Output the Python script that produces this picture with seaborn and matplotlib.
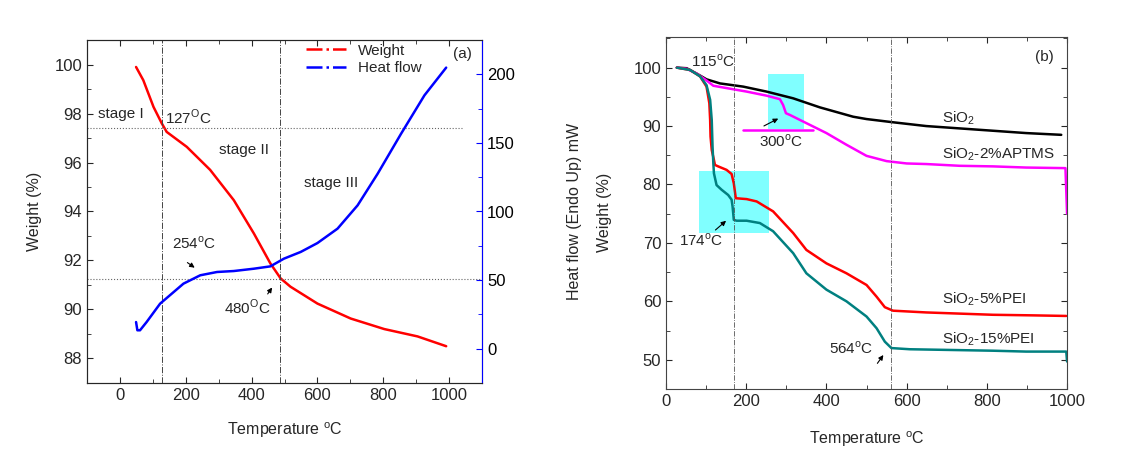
import numpy as np
import pandas as pd
import matplotlib
matplotlib.use("Agg")
import matplotlib.pyplot as plt
from matplotlib.lines import Line2D
from matplotlib.patches import Rectangle
from matplotlib.ticker import MultipleLocator
import seaborn as sns

# ---------------- data: panel (a) ----------------
wt_temp = [49, 71, 102, 127, 142, 203, 274, 346, 407, 457, 488, 518, 600, 701, 803, 904, 991]
wt_val = [99.9, 99.36, 98.27, 97.6, 97.25, 96.64, 95.7, 94.46, 93.1, 91.88, 91.27, 90.93,
          90.24, 89.63, 89.2, 88.9, 88.5]
hf_temp = [49, 53, 61, 81, 122, 193, 244, 295, 346, 407, 457, 498, 549, 600, 661, 722, 783,
           854, 925, 991]
hf_val = [19.4, 13.4, 13.4, 19.4, 32.8, 47.4, 53.5, 55.9, 56.6, 58.3, 60.0, 65.6, 70.5, 77.0,
          87.5, 104.5, 127.6, 156.7, 184.7, 204.9]

# ---------------- data: panel (b) ----------------
sio2_t = [27, 51.5, 76, 101, 134.5, 192.6, 250.7, 317, 383.6, 466.6, 500, 566, 649, 732, 815, 898, 985.5]
sio2_w = [100, 99.9, 99.0, 98.0, 97.3, 96.75, 95.9, 94.75, 93.2, 91.6, 91.2, 90.65, 90.0, 89.6,
          89.2, 88.8, 88.5]
aptms_t = [27, 51.5, 76, 101, 118, 151, 201, 251, 284, 292, 299, 309, 350, 400, 450, 500, 550,
           600, 649, 732, 815, 898, 996, 1000]
aptms_w = [100, 99.8, 99.0, 97.8, 96.9, 96.5, 95.9, 95.2, 94.6, 93.6, 92.2, 91.9, 90.5, 88.8,
           86.8, 84.9, 84.0, 83.6, 83.5, 83.2, 83.1, 82.9, 82.8, 75.0]
pei5_t = [27, 60, 85, 101, 108, 110, 111, 114, 119.5, 122, 130, 151, 163.5, 169, 174, 201, 226,
          267, 317, 350, 400, 450, 500, 525, 545.6, 566, 649, 732, 815, 915, 998]
pei5_w = [100, 99.6, 98.5, 96.75, 93.9, 91.05, 88.2, 85.9, 84.2, 83.35, 83.1, 82.5, 81.8, 80.2,
          77.65, 77.5, 77.1, 75.4, 71.7, 68.8, 66.5, 64.8, 62.8, 60.8, 59.0, 58.4, 58.1, 57.9,
          57.7, 57.6, 57.5]
pei15_t = [27, 60, 85, 101, 110, 114, 116, 118, 119.5, 126, 138.6, 155, 163.5, 166, 169, 176,
           201, 234, 267, 317, 350, 400, 450, 500, 525, 545.6, 562, 608, 691, 815, 898, 998, 1000]
pei15_w = [100, 99.6, 98.5, 97.0, 94.5, 91.05, 86.5, 83.6, 81.9, 79.9, 79.1, 78.2, 77.4, 76.2,
           73.95, 73.8, 73.8, 73.4, 72.0, 68.25, 64.8, 62.0, 60.0, 57.4, 55.4, 53.1, 52.0, 51.8,
           51.7, 51.55, 51.4, 51.4, 49.7]

series_names = ["SiO$_2$", "SiO$_2$-2%APTMS", "SiO$_2$-5%PEI", "SiO$_2$-15%PEI"]
series_colors = ["black", "#ff00ff", "#ff0000", "#008080"]

# ---------------- style ----------------
sns.set_style("ticks")
plt.rcParams["font.family"] = ["Liberation Sans", "DejaVu Sans"]
plt.rcParams["mathtext.fontset"] = "custom"
plt.rcParams["mathtext.rm"] = "Liberation Sans"
plt.rcParams["xtick.direction"] = "in"
plt.rcParams["ytick.direction"] = "in"

fig = plt.figure(figsize=(11.3, 4.5), dpi=100)
fs_tick = 12
fs_lab = 11.5
fs = 11

# ================= panel (a) =================
ax1 = fig.add_axes([0.077, 0.149, 0.3496, 0.762])
df_w = pd.DataFrame({"T": wt_temp, "W": wt_val})
sns.lineplot(data=df_w, x="T", y="W", ax=ax1, color="#ff0000", lw=1.8, sort=False)
ax1.set_xlim(-100, 1100)
ax1.set_ylim(87, 101)
ax1.xaxis.set_major_locator(MultipleLocator(200))
ax1.xaxis.set_minor_locator(MultipleLocator(100))
ax1.yaxis.set_major_locator(MultipleLocator(2))
ax1.yaxis.set_minor_locator(MultipleLocator(1))
ax1.tick_params(which="both", top=True, labelsize=fs_tick)
ax1.tick_params(which="major", length=4)
ax1.tick_params(which="minor", length=3)
ax1.set_xlabel("Temperature $^{\\rm o}$C", fontsize=fs_lab)
ax1.set_ylabel("Weight (%)", fontsize=fs_lab)
ax1.xaxis.set_label_coords(0.5, -0.108)
ax1.yaxis.set_label_coords(-0.115, 0.5)
for s in ax1.spines.values():
    s.set_color("#444444")

ax1.axvline(127, color="#444444", ls="-.", lw=0.7)
ax1.axvline(486, color="#444444", ls="-.", lw=0.7)
ax1.axhline(97.41, xmax=0.95, color="#666666", ls=":", lw=0.8)
ax1.axhline(91.24, color="#666666", ls=":", lw=0.8)

ax2 = ax1.twinx()
df_h = pd.DataFrame({"T": hf_temp, "H": hf_val})
sns.lineplot(data=df_h, x="T", y="H", ax=ax2, color="#0000ff", lw=1.8, sort=False)
ax2.set_ylim(-25, 225)
ax2.yaxis.set_major_locator(MultipleLocator(50))
ax2.yaxis.set_minor_locator(MultipleLocator(25))
ax2.tick_params(which="both", colors="#0000ff", labelcolor="black", labelsize=fs_tick)
ax2.tick_params(which="major", length=4)
ax2.tick_params(which="minor", length=3)
ax2.spines["right"].set_color("#0000ff")
ax2.set_ylabel("Heat flow (Endo Up) mW", fontsize=fs_lab)
ax2.yaxis.set_label_coords(1.215, 0.5)

ax1.text(-68, 98.0, "stage I", fontsize=fs, va="center")
ax1.text(137, 97.85, "127$^{\\rm O}$C", fontsize=fs, va="center")
ax1.text(300, 96.5, "stage II", fontsize=fs, va="center")
ax1.text(558, 95.15, "stage III", fontsize=fs, va="center")
ax1.text(157, 92.72, "254$^{\\rm o}$C", fontsize=fs, va="center")
ax1.annotate("", xy=(234, 91.64), xytext=(198, 91.98),
             arrowprops=dict(arrowstyle="-|>", color="black", lw=0.8, mutation_scale=7))
ax1.text(317, 90.08, "480$^{\\rm O}$C", fontsize=fs, va="center")
ax1.annotate("", xy=(467, 90.99), xytext=(444, 90.54),
             arrowprops=dict(arrowstyle="-|>", color="black", lw=0.8, mutation_scale=7))
ax1.text(1012, 100.45, "(a)", fontsize=fs, va="center")

handles = [Line2D([], [], color="#ff0000", ls="-.", lw=1.8),
           Line2D([], [], color="#0000ff", ls="-.", lw=1.8)]
ax1.legend(handles, ["Weight", "Heat flow"], loc="upper left", bbox_to_anchor=(0.52, 1.03),
           frameon=False, fontsize=fs, handlelength=2.6, labelspacing=0.25)

# ================= panel (b) =================
ax3 = fig.add_axes([0.5894, 0.1356, 0.3549, 0.7829])
ax3.add_patch(Rectangle((255, 89.5), 89.5, 9.4, color="#80ffff", lw=0, zorder=0))
ax3.add_patch(Rectangle((83, 71.7), 173.5, 10.6, color="#80ffff", lw=0, zorder=0))

frames = []
for name, t, w in zip(series_names, [sio2_t, aptms_t, pei5_t, pei15_t],
                      [sio2_w, aptms_w, pei5_w, pei15_w]):
    frames.append(pd.DataFrame({"T": t, "W": w, "s": name}))
df_b = pd.concat(frames, ignore_index=True)
sns.lineplot(data=df_b, x="T", y="W", hue="s", palette=dict(zip(series_names, series_colors)),
             ax=ax3, lw=1.8, sort=False, legend=False)
ax3.plot([191, 367], [89.3, 89.3], color="#ff00ff", lw=1.8)

ax3.set_xlim(0, 1000)
ax3.set_ylim(45, 105.3)
ax3.xaxis.set_major_locator(MultipleLocator(200))
ax3.xaxis.set_minor_locator(MultipleLocator(100))
ax3.yaxis.set_major_locator(MultipleLocator(10))
ax3.yaxis.set_minor_locator(MultipleLocator(5))
ax3.tick_params(which="both", top=True, right=True, labelsize=fs_tick)
ax3.tick_params(which="major", length=4)
ax3.tick_params(which="minor", length=3)
ax3.set_xlabel("Temperature $^{\\rm o}$C", fontsize=fs_lab)
ax3.set_ylabel("Weight (%)", fontsize=fs_lab)
ax3.xaxis.set_label_coords(0.5, -0.114)
ax3.yaxis.set_label_coords(-0.135, 0.5)
for s in ax3.spines.values():
    s.set_color("#444444")

ax3.axvline(170, color="#555555", ls="-.", lw=0.6)
ax3.axvline(561, color="#555555", ls="-.", lw=0.6)

ax3.text(62, 101.1, "115$^{\\rm o}$C", fontsize=fs, va="center")
ax3.text(232, 87.4, "300$^{\\rm o}$C", fontsize=fs, va="center")
ax3.annotate("", xy=(286, 91.5), xytext=(238, 89.8),
             arrowprops=dict(arrowstyle="-|>", color="black", lw=0.8, mutation_scale=7))
ax3.text(33, 70.4, "174$^{\\rm o}$C", fontsize=fs, va="center")
ax3.annotate("", xy=(155, 74.1), xytext=(118, 71.9),
             arrowprops=dict(arrowstyle="-|>", color="black", lw=0.8, mutation_scale=7))
ax3.text(407, 52.0, "564$^{\\rm o}$C", fontsize=fs, va="center")
ax3.annotate("", xy=(546, 51.2), xytext=(523, 49.0),
             arrowprops=dict(arrowstyle="-|>", color="black", lw=0.8, mutation_scale=7))
ax3.text(920, 101.9, "(b)", fontsize=fs, va="center")

label_y = [91.3, 85.2, 60.4, 53.5]
for name, ly in zip(series_names, label_y):
    ax3.text(688, ly, name, fontsize=fs, va="center")

fig.savefig("out.png", dpi=100)
